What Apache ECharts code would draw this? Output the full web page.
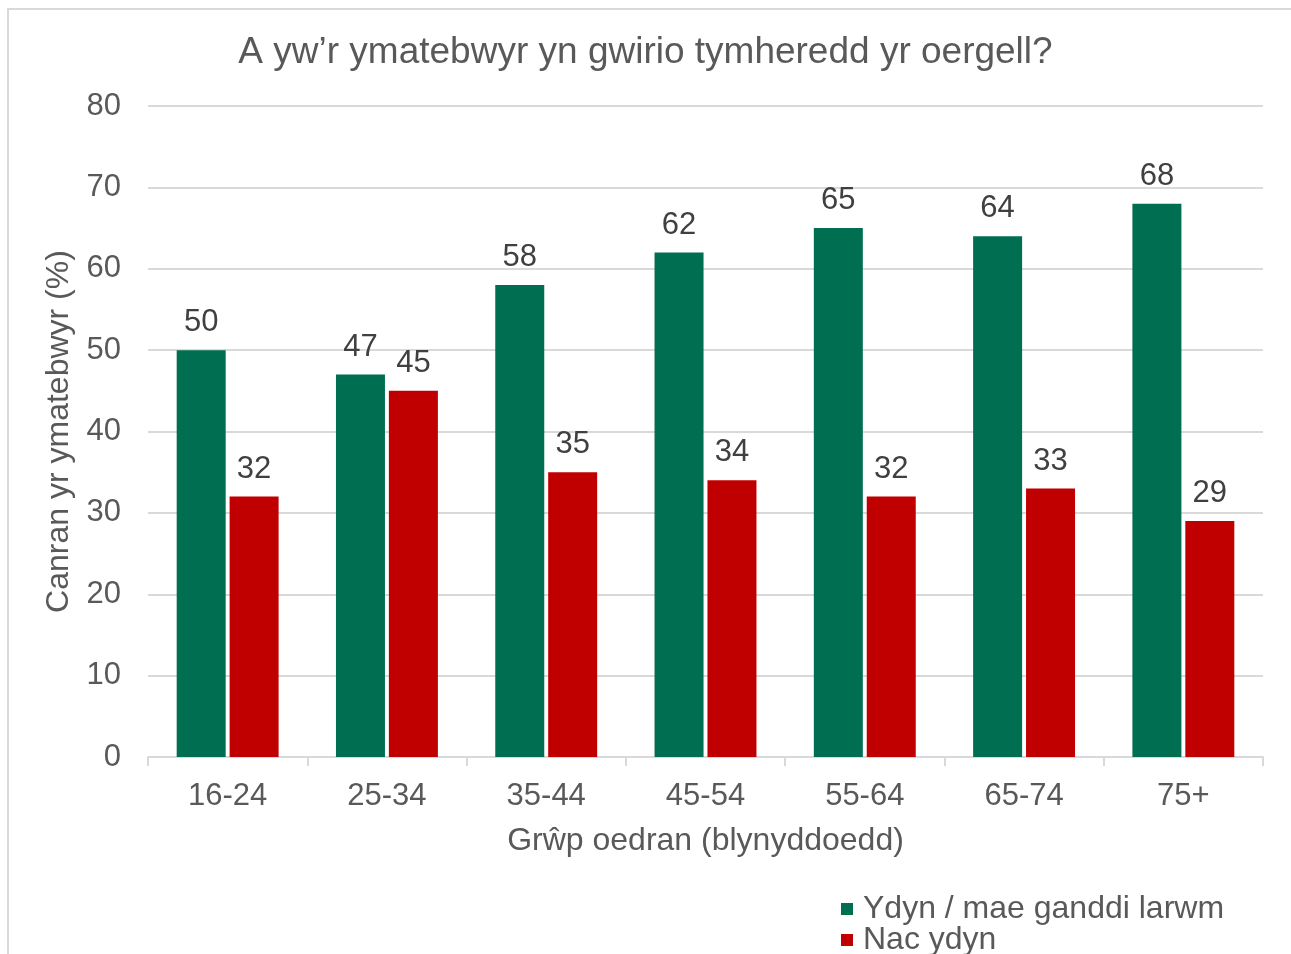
<!DOCTYPE html>
<html>
<head>
<meta charset="utf-8">
<script src="https://cdn.jsdelivr.net/npm/echarts@6/dist/echarts.min.js"></script>
<style>
  html, body { margin: 0; padding: 0; background: #fff; }
  #frame { position: absolute; left: 7px; top: 8px; width: 1300px; height: 1000px; border: 2px solid #d9d9d9; box-sizing: border-box; }
  #main { position: absolute; left: 0; top: 0; width: 1291px; height: 954px; }
</style>
</head>
<body>
<div id="frame"></div>
<div id="main"></div>
<script>
  // grwpiau oedran
  var ageGroups = ['16-24', '25-34', '35-44', '45-54', '55-64', '65-74', '75+'];
  // Ydyn / mae ganddi larwm
  var yesValues = [50, 47, 58, 62, 65, 64, 68];
  // Nac ydyn
  var noValues = [32, 45, 35, 34, 32, 33, 29];
  var yTicks = [0, 10, 20, 30, 40, 50, 60, 70, 80];
  var seriesNames = ['Ydyn / mae ganddi larwm', 'Nac ydyn'];

  var font = 'Liberation Sans, Arial, sans-serif';
  var myChart = echarts.init(document.getElementById('main'), null, {renderer: 'canvas'});

  var labelStyle = {
    show: true,
    position: 'top',
    distance: 12,
    color: '#404040',
    fontSize: 31,
    fontFamily: font
  };

  // un allwedd ar gyfer pob cyfres, un o dan y llall
  function legendItem(name, top) {
    return {
      orient: 'vertical',
      left: 836,
      top: top,
      itemWidth: 12,
      itemHeight: 12,
      itemGap: 0,
      icon: 'rect',
      textStyle: { color: '#595959', fontSize: 32, fontFamily: font, padding: [0, 0, 0, 5] },
      data: [name]
    };
  }

  var option = {
    animation: false,
    backgroundColor: 'transparent',
    title: {
      text: 'A yw\u2019r ymatebwyr yn gwirio tymheredd yr oergell?',
      left: 'center',
      top: 29,
      textStyle: { color: '#595959', fontSize: 37, fontWeight: 'normal', fontFamily: font }
    },
    legend: [legendItem(seriesNames[0], 888), legendItem(seriesNames[1], 919)],
    grid: { left: 148, right: 28, top: 106, bottom: 197 },
    xAxis: {
      type: 'category',
      data: ageGroups,
      name: 'Grŵp oedran (blynyddoedd)',
      nameLocation: 'middle',
      nameGap: 68,
      nameTextStyle: { color: '#595959', fontSize: 32, fontFamily: font },
      axisLine: { lineStyle: { color: '#d9d9d9', width: 2 } },
      axisTick: { show: true, length: 9, lineStyle: { color: '#d9d9d9', width: 2 } },
      axisLabel: { color: '#595959', fontSize: 31, fontFamily: font, margin: 24 }
    },
    yAxis: {
      type: 'value',
      min: yTicks[0],
      max: yTicks[yTicks.length - 1],
      interval: 10,
      name: 'Canran yr ymatebwyr (%)',
      nameLocation: 'middle',
      nameGap: 70,
      nameTextStyle: { color: '#595959', fontSize: 32, fontFamily: font },
      axisLine: { show: false },
      axisTick: { show: false },
      axisLabel: { color: '#595959', fontSize: 31, fontFamily: font, margin: 27 },
      splitLine: { lineStyle: { color: '#d9d9d9', width: 2 } }
    },
    series: [
      {
        name: seriesNames[0],
        type: 'bar',
        data: yesValues,
        barWidth: 49,
        barGap: '8%',
        itemStyle: { color: '#006f51' },
        label: labelStyle
      },
      {
        name: seriesNames[1],
        type: 'bar',
        data: noValues,
        barWidth: 49,
        itemStyle: { color: '#c00000' },
        label: labelStyle
      }
    ]
  };

  myChart.setOption(option);
</script>
</body>
</html>
